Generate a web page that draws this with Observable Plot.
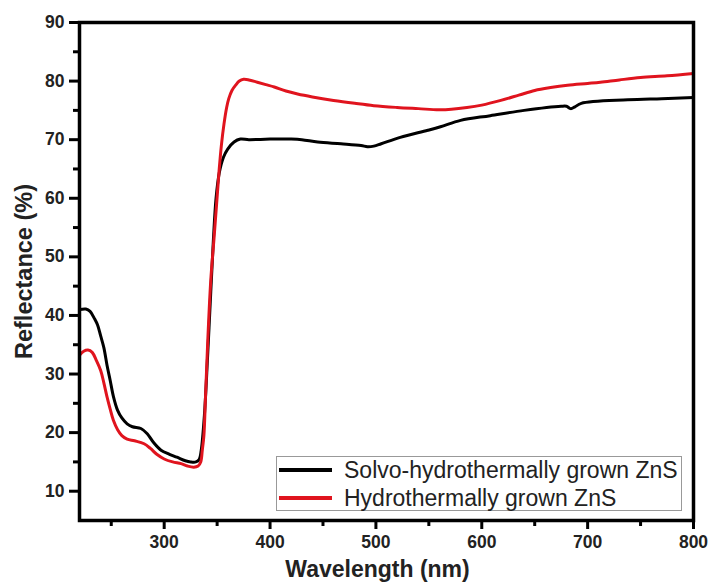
<!DOCTYPE html>
<html>
<head>
<meta charset="utf-8">
<script src="https://cdn.jsdelivr.net/npm/d3@7"></script>
<script src="https://cdn.jsdelivr.net/npm/@observablehq/plot@0.6"></script>
<style>
  html, body { margin: 0; padding: 0; background: #fff; }
  #wrap { position: relative; width: 710px; height: 583px; font-family: "Liberation Sans", Arial, sans-serif; }
  #legend { position: absolute; left: 276px; top: 456px; width: 406px; height: 55px; border: 1px solid #999; background: #fff; box-sizing: border-box; }
  .row { position: absolute; left: 0; height: 28px; display: flex; align-items: center; font-size: 23px; color: #222; white-space: nowrap; }
  .sw { width: 53px; height: 3.5px; margin-left: 2px; margin-right: 12px; }
</style>
</head>
<body>
<div id="wrap"></div>
<script>
const wlBlack = [220,226,230,234,237,240,243,246,249,252,256,260,265,270,278,284,290,297,305,312,320,325,330,333,335,338,341,344,346.5,349,352,356,360,366,372,380,400,420,430,445,467,486,492,498,505,523,549,561,580,608,640,675,680,684,688,694,738,770,800];
const rBlack  = [41.0,41.1,40.7,39.5,38.4,36.5,34.5,31.5,28.9,26.2,23.8,22.5,21.5,21.0,20.7,19.8,18.3,17.0,16.3,15.8,15.2,15.0,15.0,15.4,17,23,33,44,53,60,64.3,67,68.4,69.6,70.1,70.0,70.1,70.1,70.0,69.6,69.3,69.0,68.8,68.9,69.3,70.4,71.6,72.2,73.3,74.1,75.0,75.7,75.7,75.3,75.6,76.2,76.8,77.0,77.2];
const wlRed = [220,224,228,232,236,240,243,246,249,252,256,260,265,272,281,287,293,300,308,316,322,328,332,334.5,336,337.5,339,341,344,347,349.5,352,354,356.5,359,361,364,367.5,371,375,380,388,396,404,415,426,440,460,480,498,520,540,561,586,600,618,635,650,665,681,700,712,730,750,775,800];
const rRed  = [33.2,33.9,34.1,33.7,32.3,30.6,28.5,26.1,24.0,22.1,20.5,19.5,18.9,18.6,18.1,17.3,16.3,15.5,15.0,14.7,14.3,14.1,14.3,15,17,19.5,26,35,46,53,59,65,69,72.7,75.5,77.0,78.4,79.3,80.0,80.3,80.2,79.8,79.4,79.0,78.3,77.8,77.3,76.7,76.2,75.8,75.5,75.3,75.1,75.5,75.9,76.7,77.6,78.4,78.9,79.3,79.6,79.8,80.2,80.6,80.9,81.3];
const seriesNames = ["Solvo-hydrothermally grown ZnS", "Hydrothermally grown ZnS"];
const seriesColors = ["#000000", "#e0141e"];
const xMajor = [300,400,500,600,700,800];
const xMinor = [250,350,450,550,650,750];
const yMajor = [10,20,30,40,50,60,70,80,90];
const yMinor = [15,25,35,45,55,65,75,85];
const xLabel = "Wavelength (nm)";
const yLabel = "Reflectance (%)";

const black = wlBlack.map((w,i)=>({w, r: rBlack[i]}));
const red = wlRed.map((w,i)=>({w, r: rRed[i]}));

const chart = Plot.plot({
  width: 710, height: 583,
  marginLeft: 79, marginRight: 17, marginTop: 22, marginBottom: 63,
  x: {domain: [220, 800]},
  y: {domain: [5, 90]},
  style: {fontFamily: "Liberation Sans, Arial, sans-serif", background: "#fff", color: "#222"},
  marks: [
    Plot.axisX(xMajor, {tickSize: 9, tickPadding: 6, stroke: "#000", strokeWidth: 3, fontSize: 17.5, fontWeight: "bold", label: null}),
    Plot.axisX(xMinor, {tickSize: 6, text: null, stroke: "#000", strokeWidth: 3, label: null}),
    Plot.axisY(yMajor, {tickSize: 10, tickPadding: 5, stroke: "#000", strokeWidth: 3, fontSize: 17.5, fontWeight: "bold", label: null}),
    Plot.axisY(yMinor, {tickSize: 6, text: null, stroke: "#000", strokeWidth: 3, label: null}),
    Plot.line(black, {x: "w", y: "r", stroke: seriesColors[0], strokeWidth: 3, curve: "catmull-rom"}),
    Plot.line(red, {x: "w", y: "r", stroke: seriesColors[1], strokeWidth: 3, curve: "catmull-rom"}),
    Plot.frame({stroke: "#000", strokeWidth: 3.5}),
    Plot.text([xLabel], {frameAnchor: "bottom", lineAnchor: "middle", textAnchor: "middle", dx: -9, dy: 49, fontSize: 23, fontWeight: "bold", fill: "#222"}),
    Plot.text([yLabel], {frameAnchor: "left", lineAnchor: "middle", textAnchor: "middle", rotate: -90, dx: -55, fontSize: 23.5, fontWeight: "bold", fill: "#222"})
  ]
});
const wrap = document.getElementById("wrap");
wrap.appendChild(chart);

const legend = document.createElement("div");
legend.id = "legend";
seriesNames.forEach((name, i) => {
  const row = document.createElement("div");
  row.className = "row";
  row.style.top = (i === 0 ? -1 : 27) + "px";
  const sw = document.createElement("div");
  sw.className = "sw";
  sw.style.background = seriesColors[i];
  const t = document.createElement("span");
  t.textContent = name;
  row.appendChild(sw);
  row.appendChild(t);
  legend.appendChild(row);
});
wrap.appendChild(legend);
</script>
</body>
</html>
